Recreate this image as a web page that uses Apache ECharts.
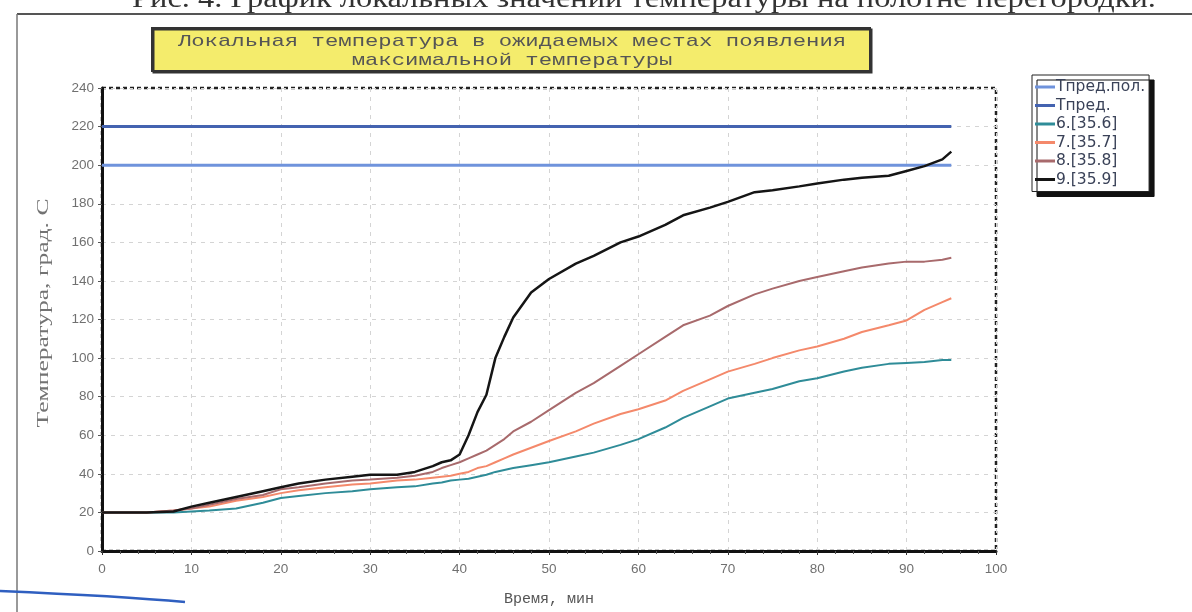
<!DOCTYPE html>
<html><head><meta charset="utf-8">
<script src="https://cdn.jsdelivr.net/npm/echarts@6/dist/echarts.min.js"></script>
<style>html,body{margin:0;padding:0;background:#fff}#c{width:1192px;height:612px}</style>
</head><body><div id="c"></div>
<script>
const time = [0,5,8,10,12,15,18,20,22,25,28,30,33,35,37,38,39,40,41,42,43,44,45,46,48,50,53,55,58,60,63,65,68,70,73,75,78,80,83,85,88,90,92,94,95];
const s9 = [20,20,20.5,23,25,28,31,33,35,37,38.5,39.5,39.5,41,44,46,47,50,60,72,81,100,111,121,134,141,149,153,160,163,169,174,178,181,186,187,189,190.5,192.5,193.5,194.5,197,199.5,203,207];
const s8 = [20,20,21,22,24,27,29,32,33,35,36.5,37,38,39,41,43,44.5,46,48,50,52,55,58,62,67,73,82,87,96,102,111,117,122,127,133,136,140,142,145,147,149,150,150,151,152];
const s7 = [20,20,21,22,23,26,28,30,31.5,33,34.5,35,36.5,37,38,38.5,39,40,41,43,44,46,48,50,53.5,57,62,66,71,73.5,78,83,89,93,97,100,104,106,110,113.5,117,119.5,125,129,131];
const s6 = [20,20,20,20.5,21,22,25,27.5,28.5,30,31,32,33,33.5,35,35.5,36.5,37,37.5,38.5,39.5,41,42,43,44.5,46,49,51,55,58,64,69,75,79,82,84,88,89.5,93,95,97,97.5,98,99,99];
const limitTime = [0,95];
const limitPol = [200,200];
const limitPred = [220,220];
const seriesNames = ['Тпред.пол.','Тпред.','6.[35.6]','7.[35.7]','8.[35.8]','9.[35.9]'];

const pairs = (xs, ys) => xs.map((x,i)=>[x, ys[i]]);
const chart = echarts.init(document.getElementById('c'));
const lineS = (name, data, color, width, z) => ({
  name, type:'line', data, showSymbol:false, symbol:'none', silent:true, z,
  lineStyle:{color, width}, itemStyle:{color}
});
chart.setOption({
  animation:false,
  backgroundColor:'#fff',
  grid:{left:102, right:196, top:88, bottom:57, show:true, borderColor:'#222', borderWidth:2.5, borderType:[4,3]},
  xAxis:{type:'value', min:0, max:100, interval:10,
    name:'Время, мин', nameLocation:'middle', nameGap:41,
    nameTextStyle:{fontFamily:'Liberation Mono', fontSize:15, color:'#555'},
    axisLine:{show:true, onZero:false, lineStyle:{color:'#111', width:3}},
    axisTick:{show:true, length:4, lineStyle:{color:'#333'}},
    minorTick:{show:true, splitNumber:5, length:3, lineStyle:{color:'#555'}},
    axisLabel:{color:'#707070', fontSize:13.5, margin:11, fontFamily:'Liberation Sans'},
    splitLine:{show:true, lineStyle:{color:'#d4d4d4', type:[4,5], width:1}}
  },
  yAxis:{type:'value', min:0, max:240, interval:20,
    axisLine:{show:true, lineStyle:{color:'#111', width:3}},
    axisTick:{show:true, length:4, lineStyle:{color:'#555'}},
    axisLabel:{color:'#707070', fontSize:13.5, margin:8, fontFamily:'Liberation Sans'},
    splitLine:{show:true, lineStyle:{color:'#d4d4d4', type:[4,5], width:1}}
  },
  legend:{orient:'vertical', left:1032, top:75, data:seriesNames,
    itemWidth:20, itemHeight:3, itemGap:2.5, icon:'rect',
    backgroundColor:'#fff', borderColor:'#222', borderWidth:1, padding:[4,4,4,3],
    shadowColor:'#111', shadowBlur:0, shadowOffsetX:5, shadowOffsetY:5,
    textStyle:{fontFamily:'DejaVu Sans', fontSize:15.5, color:'#3a4258', padding:[0,0,0,-4]},
    selectedMode:false
  },
  graphic:[
    {type:'text', silent:true, x:644, y:13, scaleX:1.2,
      style:{text:'Рис. 4. График локальных значений температуры на полотне перегородки.', font:'27px Liberation Serif', fill:'#333', align:'center', verticalAlign:'bottom'}},
    {type:'line', silent:true, shape:{x1:17, y1:14, x2:1192, y2:14}, style:{stroke:'#555', lineWidth:2}},
    {type:'line', silent:true, shape:{x1:17, y1:14, x2:17, y2:612}, style:{stroke:'#777', lineWidth:1.5}},
    {type:'rect', silent:true, z:10, shape:{x:152, y:28, width:718, height:43},
      style:{fill:'#f4ec6c', stroke:'#333', lineWidth:2, shadowColor:'#333', shadowOffsetX:1.5, shadowOffsetY:1.5, shadowBlur:0}},
    {type:'text', silent:true, z:11, x:512, y:32, scaleX:1.31,
      style:{text:'Локальная температура в ожидаемых местах появления\nмаксимальной температуры', font:'17px Liberation Mono', fill:'#555', align:'center', lineHeight:19}},
    {type:'text', silent:true, x:44, y:313, rotation:Math.PI/2, scaleX:1.6,
      style:{text:'Температура, град. С', font:'16px Liberation Serif', fill:'#737373', align:'center', verticalAlign:'middle'}},
    {type:'bezierCurve', silent:true, shape:{x1:0, y1:591, x2:185, y2:602, cpx1:70, cpy1:594, cpx2:130, cpy2:597}, style:{stroke:'#2f5fc0', lineWidth:2.5}}
  ],
  series:[
    lineS(seriesNames[0], pairs(limitTime, limitPol), '#6f93dc', 3, 2),
    lineS(seriesNames[1], pairs(limitTime, limitPred), '#4463b0', 3, 2),
    lineS(seriesNames[2], pairs(time, s6), '#2f8c98', 2, 3),
    lineS(seriesNames[3], pairs(time, s7), '#f4896b', 2, 4),
    lineS(seriesNames[4], pairs(time, s8), '#a86a6c', 2, 5),
    lineS(seriesNames[5], pairs(time, s9), '#151515', 2.5, 6)
  ]
});
</script></body></html>
